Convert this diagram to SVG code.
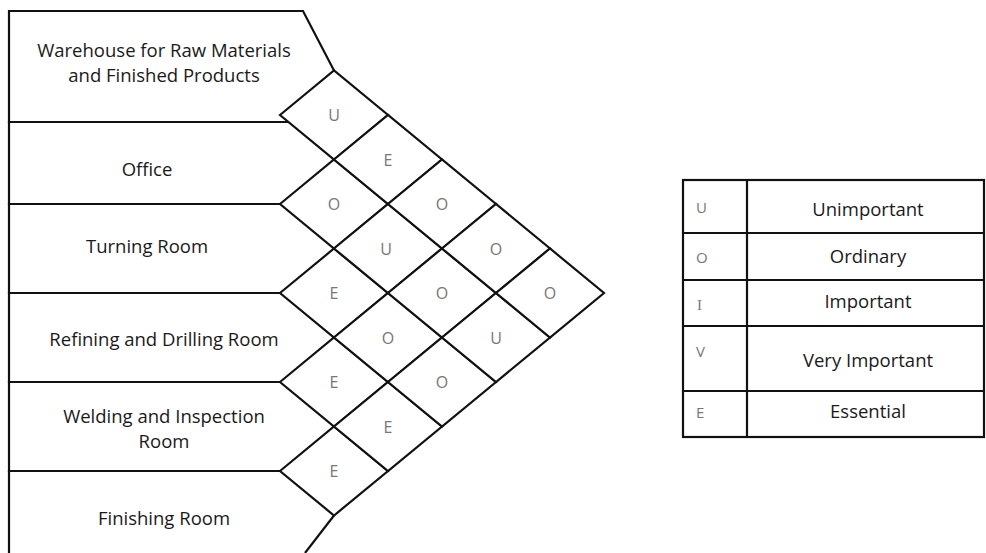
<svg xmlns="http://www.w3.org/2000/svg" width="986" height="553" viewBox="0 0 986 553">
<style>
  .ln { fill: none; stroke: #111; stroke-width: 2.2; stroke-linejoin: miter; }
  .dm { fill: #fff; stroke: #111; stroke-width: 2.2; stroke-linejoin: miter; }
  .lbl { font-family: "Open Sans", "Liberation Sans", sans-serif; font-size: 18.5px; fill: #1a1a1a; text-anchor: middle; }
  .code { font-family: "Open Sans", "Liberation Sans", sans-serif; font-size: 16px; fill: #777; text-anchor: middle; }
  .lcode { font-family: "Open Sans", "Liberation Sans", sans-serif; font-size: 15px; fill: #777; }
</style>
<rect x="0" y="0" width="986" height="553" fill="#fff"/>

<g id="rooms">
  <g id="room-warehouse">
    <polyline class="ln" points="288,122 9,122 9,11 303,11 334,70.5"/>
    <text class="lbl" x="164" y="57">Warehouse for Raw Materials</text>
    <text class="lbl" x="164" y="82">and Finished Products</text>
  </g>
  <g id="room-office">
    <polyline class="ln" points="288,122 9,122 9,204 280,204"/>
    <text class="lbl" x="147" y="176">Office</text>
  </g>
  <g id="room-turning">
    <polyline class="ln" points="280,204 9,204 9,293 280,293"/>
    <text class="lbl" x="147" y="253">Turning Room</text>
  </g>
  <g id="room-refining">
    <polyline class="ln" points="280,293 9,293 9,382 280,382"/>
    <text class="lbl" x="164" y="346">Refining and Drilling Room</text>
  </g>
  <g id="room-welding">
    <polyline class="ln" points="280,382 9,382 9,471 280,471"/>
    <text class="lbl" x="164" y="423">Welding and Inspection</text>
    <text class="lbl" x="164" y="448">Room</text>
  </g>
  <g id="room-finishing">
    <polyline class="ln" points="280,471 9,471 9,553"/>
    <polyline class="ln" points="334,515.5 305,553"/>
    <text class="lbl" x="164" y="525">Finishing Room</text>
  </g>
</g>

<g id="connectors"></g>

<g id="matrix">
  <!-- column 1 -->
  <g id="d-1-2"><polygon class="dm" points="280,115 334,70.5 388,115 334,159.5"/><text class="code" x="334" y="121">U</text></g>
  <g id="d-2-3"><polygon class="dm" points="280,204 334,159.5 388,204 334,248.5"/><text class="code" x="334" y="210">O</text></g>
  <g id="d-3-4"><polygon class="dm" points="280,293 334,248.5 388,293 334,337.5"/><text class="code" x="334" y="299">E</text></g>
  <g id="d-4-5"><polygon class="dm" points="280,382 334,337.5 388,382 334,426.5"/><text class="code" x="334" y="388">E</text></g>
  <g id="d-5-6"><polygon class="dm" points="280,471 334,426.5 388,471 334,515.5"/><text class="code" x="334" y="477">E</text></g>
  <!-- column 2 -->
  <g id="d-1-3"><polygon class="dm" points="334,159.5 388,115 442,159.5 388,204"/><text class="code" x="388" y="165.5">E</text></g>
  <g id="d-2-4"><polygon class="dm" points="334,248.5 388,204 442,248.5 388,293"/><text class="code" x="386" y="254.5">U</text></g>
  <g id="d-3-5"><polygon class="dm" points="334,337.5 388,293 442,337.5 388,382"/><text class="code" x="388" y="343.5">O</text></g>
  <g id="d-4-6"><polygon class="dm" points="334,426.5 388,382 442,426.5 388,471"/><text class="code" x="388" y="432.5">E</text></g>
  <!-- column 3 -->
  <g id="d-1-4"><polygon class="dm" points="388,204 442,159.5 496,204 442,248.5"/><text class="code" x="442" y="210">O</text></g>
  <g id="d-2-5"><polygon class="dm" points="388,293 442,248.5 496,293 442,337.5"/><text class="code" x="442" y="299">O</text></g>
  <g id="d-3-6"><polygon class="dm" points="388,382 442,337.5 496,382 442,426.5"/><text class="code" x="442" y="388">O</text></g>
  <!-- column 4 -->
  <g id="d-1-5"><polygon class="dm" points="442,248.5 496,204 550,248.5 496,293"/><text class="code" x="496" y="254.5">O</text></g>
  <g id="d-2-6"><polygon class="dm" points="442,337.5 496,293 550,337.5 496,382"/><text class="code" x="496" y="343.5">U</text></g>
  <!-- column 5 -->
  <g id="d-1-6"><polygon class="dm" points="496,293 550,248.5 604,293 550,337.5"/><text class="code" x="550" y="299">O</text></g>
</g>

<g id="legend">
  <rect class="ln" x="683" y="180" width="301" height="257"/>
  <line class="ln" x1="747" y1="180" x2="747" y2="437" stroke-width="2.6"/>
  <line class="ln" x1="683" y1="233" x2="984" y2="233"/>
  <line class="ln" x1="683" y1="280" x2="984" y2="280"/>
  <line class="ln" x1="683" y1="326" x2="984" y2="326"/>
  <line class="ln" x1="683" y1="391" x2="984" y2="391"/>
  <text class="lcode" x="696" y="213">U</text>
  <text class="lcode" x="696" y="263">O</text>
  <text class="lcode" x="697" y="310" style="font-family:'Liberation Serif', serif">I</text>
  <text class="lcode" x="696" y="357">V</text>
  <text class="lcode" x="696" y="418">E</text>
  <text class="lbl" x="868" y="216">Unimportant</text>
  <text class="lbl" x="868" y="263">Ordinary</text>
  <text class="lbl" x="868" y="308">Important</text>
  <text class="lbl" x="868" y="367">Very Important</text>
  <text class="lbl" x="868" y="418">Essential</text>
</g>
</svg>
